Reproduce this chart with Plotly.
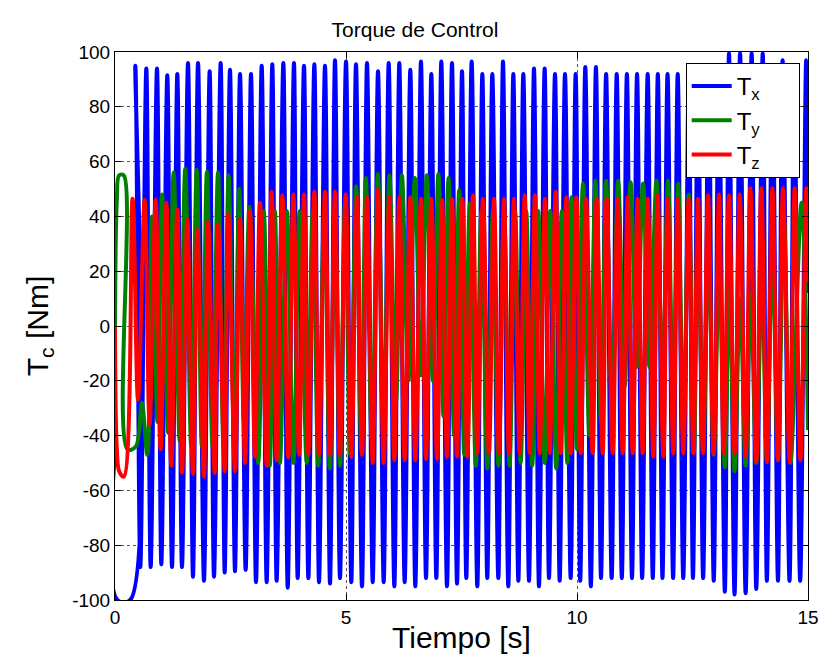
import plotly.graph_objects as go

# ---- Tx (blue): extrema times [s] and values [Nm] ----
tx_t = [0, 0.05, 0.33, 0.44, 0.548, 0.678, 0.772, 0.909, 1.003, 1.132,
        1.234, 1.349, 1.450, 1.580, 1.688, 1.797, 1.926, 2.049, 2.143, 2.287,
        2.374, 2.489, 2.597, 2.706, 2.828, 2.944, 3.052, 3.175, 3.283, 3.405,
        3.499, 3.644, 3.738, 3.874, 3.954, 4.091, 4.185, 4.315, 4.416, 4.545,
        4.654, 4.762, 4.870, 5.000, 5.115, 5.216, 5.346, 5.455, 5.578, 5.693,
        5.816, 5.924, 6.046, 6.154, 6.270, 6.392, 6.500, 6.623, 6.732, 6.847,
        6.955, 7.063, 7.186, 7.294, 7.403, 7.511, 7.604, 7.720, 7.842, 7.951,
        8.058, 8.167, 8.297, 8.398, 8.513, 8.622, 8.730, 8.838, 8.961, 9.069,
        9.177, 9.300, 9.394, 9.524, 9.625, 9.740, 9.863, 9.971, 10.07, 10.18,
        10.30, 10.41, 10.52, 10.63, 10.75, 10.86, 10.97, 11.08, 11.19, 11.30,
        11.41, 11.53, 11.64, 11.75, 11.85, 11.96, 12.08, 12.18, 12.30, 12.42,
        12.51, 12.62, 12.73, 12.85, 12.96, 13.07, 13.20, 13.29, 13.41, 13.53,
        13.65, 13.78, 13.88, 14.02, 14.11, 14.23, 14.35, 14.45, 14.60, 14.70,
        14.83, 14.96, 15.0]
tx_v = [-45, -100, -100, 95, -88, 94, -88, 94, -87, 91.5,
        -88, 92, -88, 96, -91.5, 96, -93, 93, -91.5, 96,
        -90, 93.5, -89.5, 92, -89, 92, -93.5, 95, -93.5, 95.5,
        -93, 96, -95.5, 96, -92, 95, -92, 95.5, -93.5, 95,
        -94, 97, -92, 96.5, -93.5, 95.5, -95, 96, -93.5, 93,
        -93.5, 96, -95, 96, -93.5, 93.5, -95, 96.5, -92, 92,
        -92, 96.5, -95, 96, -94, 93, -92, 96.5, -95, 92,
        -92, 92, -92, 96.5, -95, 92, -93, 92, -93, 94,
        -95, 94, -92, 92, -93, 92, -92, 92, -93, 94.5,
        -95, 94.5, -92, 92, -92, 92, -92, 92, -92, 92,
        -92, 92, -92, 92, -92, 92, -92, 92, -92, 92,
        -92, 93, -92, 93, -93, 94, -97, 99.5, -98, 99.5,
        -97.5, 99.5, -96, 99.5, -93, 95, -93, 97, -93, 95,
        -93, 97, 12]

# ---- Ty (green) ----
ty_t = [0, 0.04, 0.09, 0.19, 0.27, 0.45, 0.58, 0.70, 0.80, 0.92,
        1.02, 1.15, 1.27, 1.40, 1.52, 1.65, 1.77, 1.88, 1.99, 2.11,
        2.23, 2.35, 2.46, 2.58, 2.69, 2.79, 2.91, 3.10, 3.22, 3.35,
        3.46, 3.57, 3.72, 3.86, 4.00, 4.15, 4.28, 4.40, 4.53, 4.65,
        4.76, 4.87, 4.98, 5.09, 5.22, 5.33, 5.43, 5.56, 5.69, 5.82,
        5.94, 6.08, 6.21, 6.35, 6.49, 6.62, 6.75, 6.88, 7.00, 7.11,
        7.22, 7.34, 7.45, 7.56, 7.68, 7.81, 7.93, 8.06, 8.18, 8.30,
        8.42, 8.54, 8.66, 8.78, 8.90, 9.03, 9.16, 9.30, 9.42, 9.55,
        9.67, 9.79, 9.88, 10.00, 10.13, 10.27, 10.40, 10.52, 10.63, 10.76,
        10.89, 11.03, 11.16, 11.29, 11.43, 11.57, 11.72, 11.85, 11.97, 12.08,
        12.19, 12.30, 12.42, 12.53, 12.62, 12.73, 12.85, 12.96, 13.08, 13.20,
        13.30, 13.41, 13.53, 13.65, 13.76, 13.88, 14.00, 14.11, 14.23, 14.35,
        14.48, 14.62, 14.86, 15.0]
ty_v = [0, 46, 55, 55, -45, -44, -28, -47, 40, -35,
        48, -39, 56, -42, 57.5, -44, 57, -44, 56.3, -44,
        56, -45, 55, -42, 50, -35, 43.5, -50, 42, -51,
        42, -50, 42, -50, 42, -50, 42, -51, 42, -52,
        42, -51, 45, -47, 51, -45, 54, -42, 55.5, -35,
        55, -28, 55, -20, 54, -18, 55, -20, 55.5, -33,
        54, -40, 49.6, -47, 44.8, -51, 42, -52, 42, -51,
        42, -51, 42, -50, 42, -51, 42, -50, 42, -52,
        42, -50, 47, -45, 52, -40, 53, -35, 53, -30,
        53, -22, 52.5, -15, 52, -15, 53, -20, 53, -30,
        52, -38, 48, -46, 40, -46, 30, -47, 22, -51.6,
        15, -53, 10, -51, 12, -50, 18, -49, 28, -49,
        38, -50, 45, -38]

# ---- Tz (red) ----
tz_t = [0, 0.04, 0.09, 0.19, 0.38, 0.498, 0.642, 0.750, 0.880, 0.988,
        1.111, 1.219, 1.349, 1.450, 1.566, 1.688, 1.782, 1.926, 2.013, 2.157,
        2.229, 2.374, 2.450, 2.597, 2.706, 2.814, 2.922, 3.030, 3.139, 3.283,
        3.391, 3.499, 3.622, 3.752, 3.860, 3.983, 4.091, 4.185, 4.315, 4.416,
        4.545, 4.654, 4.762, 4.870, 4.993, 5.115, 5.238, 5.346, 5.455, 5.578,
        5.693, 5.816, 5.938, 6.046, 6.154, 6.270, 6.392, 6.500, 6.623, 6.732,
        6.847, 6.970, 7.078, 7.186, 7.294, 7.403, 7.518, 7.626, 7.749, 7.843,
        7.965, 8.095, 8.203, 8.312, 8.420, 8.528, 8.636, 8.759, 8.867, 8.975,
        9.091, 9.192, 9.307, 9.408, 9.538, 9.646, 9.769, 9.863, 9.986, 10.08,
        10.195, 10.339, 10.426, 10.556, 10.642, 10.772, 10.880, 10.989, 11.097, 11.205,
        11.313, 11.421, 11.530, 11.652, 11.746, 11.869, 11.962, 12.085, 12.179, 12.302,
        12.417, 12.518, 12.619, 12.727, 12.835, 12.958, 13.074, 13.175, 13.290, 13.413,
        13.521, 13.651, 13.752, 13.882, 13.990, 14.113, 14.228, 14.351, 14.459, 14.604,
        14.712, 14.835, 14.964, 15.0]
tz_v = [0, -45, -53, -55, 46.4, -27, 46, -36, 46, -45,
        45, -51, 42.5, -53.6, 39, -54, 35, -55, 38, -53.6,
        37, -53, 41, -53, 39, -50, 42, -47.7, 45, -51,
        49, -49, 47.7, -48, 48, -47, 48, -47, 49, -47,
        49, -47, 49, -47, 48, -47.7, 47, -47, 47, -50,
        49.7, -50, 47, -49, 47, -49, 47, -49, 46.4, -48.5,
        46.4, -48.5, 46, -47.7, 46.4, -47.7, 46.4, -47.7, 47.7, -46.4,
        46.4, -46.4, 46.4, -46.4, 46.4, -46.4, 46.4, -46.4, 47.7, -46.4,
        47.7, -46.4, 46.4, -46.4, 49, -46.4, 47, -46.4, 47, -46.4,
        46.4, -46.4, 46.4, -46.4, 46.4, -46.4, 46.4, -46.4, 47, -46.4,
        46.4, -46.4, 46.4, -47.7, 47.7, -47.7, 46.4, -46.4, 46.4, -46.4,
        46.4, -46.4, 46.4, -46.4, 47.7, -46.4, 48, -46.4, 47.7, -46.4,
        48, -47.7, 50.3, -49.7, 50.3, -49.7, 50.3, -49, 50.3, -49.7,
        50.3, -49, 50.3, 16]

assert len(tx_t) == len(tx_v)
assert len(ty_t) == len(ty_v)
assert len(tz_t) == len(tz_v)

PAD = "\u00a0" * 5
series_names = ["T<sub>x</sub>" + PAD, "T<sub>y</sub>" + PAD, "T<sub>z</sub>" + PAD]
series_colors = ["#0000FF", "#008000", "#FF0000"]
x_ticks = [0, 5, 10, 15]
y_ticks = [-100, -80, -60, -40, -20, 0, 20, 40, 60, 80, 100]

FONT = "Liberation Sans, Arial, Helvetica, sans-serif"

fig = go.Figure()
for (xs, ys), name, col in zip([(tx_t, tx_v), (ty_t, ty_v), (tz_t, tz_v)],
                               series_names, series_colors):
    fig.add_trace(go.Scatter(x=xs, y=ys, mode="lines", name=name,
                             line=dict(color=col, width=4, shape="spline", smoothing=1)))

axis_common = dict(showline=True, linecolor="black", linewidth=1, mirror="ticks",
                   ticks="inside", ticklen=6, tickcolor="black",
                   showgrid=True, gridcolor="#555555", griddash="dot", gridwidth=1,
                   zeroline=False, tickfont=dict(family=FONT, size=19, color="black"))

fig.update_layout(
    width=824, height=667,
    paper_bgcolor="white", plot_bgcolor="white",
    margin=dict(l=115, r=16, t=52, b=67, autoexpand=False),
    font=dict(family=FONT, color="black"),
    title=dict(text="Torque de Control", x=(415 - 115) / 693, xref="paper", xanchor="center",
               y=1 - 30 / 667, yref="container", yanchor="middle",
               font=dict(family=FONT, size=21, color="black")),
    xaxis=dict(range=[0, 15], tickvals=x_ticks, ticktext=[str(v) for v in x_ticks],
               title=dict(text="Tiempo [s]", font=dict(family=FONT, size=30), standoff=0),
               **axis_common),
    yaxis=dict(range=[-100, 100], tickvals=y_ticks,
               ticktext=[str(v) for v in y_ticks],
               title=dict(text="T<sub>c</sub> [Nm]", font=dict(family=FONT, size=30), standoff=14),
               **axis_common),
    legend=dict(x=0.988, y=0.98, xanchor="right", yanchor="top",
                bgcolor="white", bordercolor="black", borderwidth=1,
                itemwidth=40,
                font=dict(family=FONT, size=24, color="black")),
    showlegend=True,
)

fig.write_html("out.html")
